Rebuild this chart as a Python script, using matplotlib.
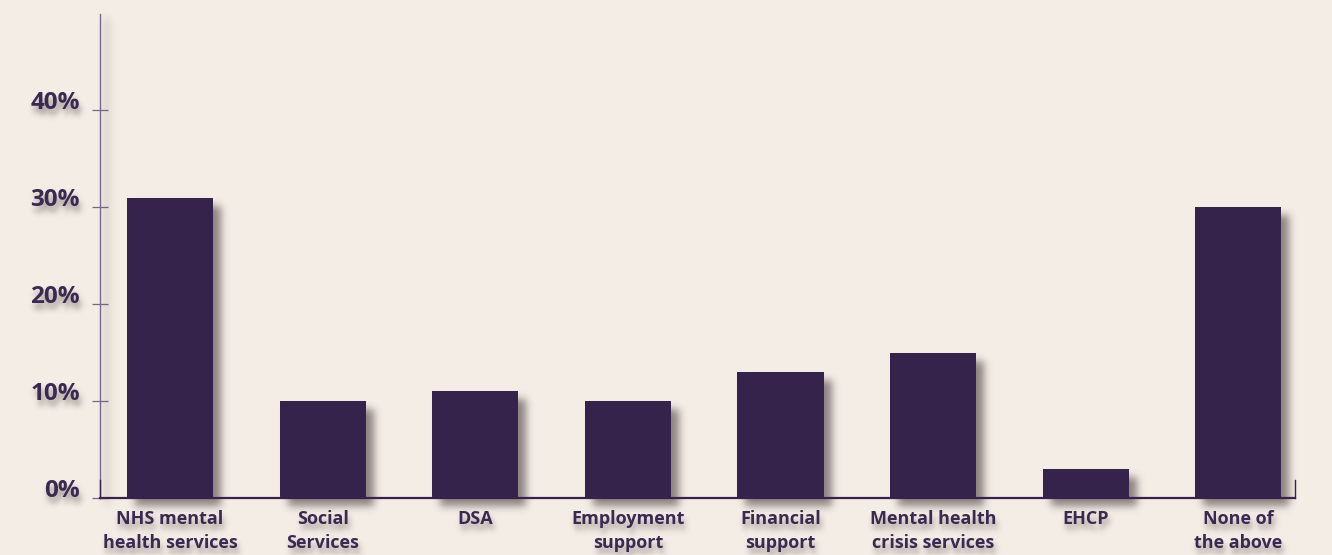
import numpy as np
import matplotlib
matplotlib.use("Agg")
import matplotlib.pyplot as plt
from matplotlib.transforms import offset_copy

categories = ["NHS mental\nhealth services", "Social\nServices", "DSA", "Employment\nsupport",
              "Financial\nsupport", "Mental health\ncrisis services", "EHCP", "None of\nthe above"]
values = [31, 10, 11, 10, 13, 15, 3, 30]
yticks = [0, 10, 20, 30, 40]
ytick_labels = [f"{t}%" for t in yticks]

BG = "#f4ede6"
BAR = "#36234b"
INK = "#3a2a52"
AXIS = "#76688f"
FONT = ["Open Sans", "DejaVu Sans"]


def blur(a, sigma):
    # separable gaussian, rows then columns
    r = max(int(3 * sigma), 1)
    k = np.exp(-0.5 * (np.arange(-r, r + 1) / sigma) ** 2)
    k /= k.sum()
    h, w = a.shape
    p = np.pad(a, r)
    tmp = sum(k[i] * p[:, i:i + w] for i in range(2 * r + 1))
    return sum(k[i] * tmp[i:i + h, :] for i in range(2 * r + 1))


class Shadow:
    """agg filter: draws the artist over a soft offset shadow"""

    def __init__(self, dx, dy, sigma, alpha, color=(0.28, 0.24, 0.24)):
        self.dx, self.dy, self.sigma, self.alpha = dx, dy, sigma, alpha
        self.color = np.array(color)

    def __call__(self, im, dpi):
        pad = int(abs(self.dx) + abs(self.dy) + 3 * self.sigma) + 2
        src = np.pad(im, [(pad, pad), (pad, pad), (0, 0)])
        a = src[..., 3]
        sh = np.roll(np.roll(a, self.dx, axis=1), self.dy, axis=0)
        sa = np.clip(blur(sh, self.sigma) * self.alpha, 0, 1)
        out = np.empty_like(src)
        oa = a + sa * (1 - a)
        safe = np.where(oa > 1e-6, oa, 1)
        for c in range(3):
            out[..., c] = (src[..., c] * a + self.color[c] * sa * (1 - a)) / safe
        out[..., 3] = oa
        return out, -pad, -pad


fig = plt.figure(figsize=(13.32, 5.55), dpi=100, facecolor=BG)
W, H = 1332, 555
x_left, x_right = 100, 1295
y_zero, y_top = 498, 13.5
ax = fig.add_axes([x_left / W, (H - y_zero) / H, (x_right - x_left) / W, (y_zero - y_top) / H])
ax.set_facecolor(BG)

x = np.arange(len(categories))
bars = ax.bar(x, values, width=0.565, color=BAR, zorder=3)
for b in bars:
    b.set_agg_filter(Shadow(8, 8, 4, 0.6))

ax.set_xlim(-0.459, 7.372)
ax.set_ylim(0, 50)
ax.set_yticks(yticks)
ax.set_yticklabels([])
ax.set_xticks([])
ax.tick_params(axis="y", direction="inout", length=11.5, width=0.9, color=AXIS)

for s in ("top", "right"):
    ax.spines[s].set_visible(False)
ax.spines["left"].set_color(AXIS)
ax.spines["left"].set_linewidth(1.0)
ax.spines["left"].set_agg_filter(Shadow(6, 4, 4, 0.35))
ax.spines["bottom"].set_color(BAR)
ax.spines["bottom"].set_linewidth(1.6)
ax.spines["bottom"].set_zorder(4)

# small end marks on the baseline
end_h = 18 / (y_zero - y_top)
for xe in ax.get_xlim():
    ax.axvline(xe, ymin=0, ymax=end_h, color=BAR, lw=1.0, zorder=4, clip_on=False)

# y tick labels
ylab_tr = offset_copy(ax.get_yaxis_transform(), fig=fig, x=-14.4, y=5, units="points")
for t, lab in zip(yticks, ytick_labels):
    txt = ax.text(0, t, lab, transform=ylab_tr, ha="right", va="center",
                  fontsize=17.5, fontweight="bold", color=INK, family=FONT, clip_on=False)
    txt.set_agg_filter(Shadow(2, 6, 3, 0.5))

# category labels under the baseline
xlab_tr = offset_copy(ax.get_xaxis_transform(), fig=fig, x=0, y=-9, units="points")
for xi, lab in zip(x, categories):
    txt = ax.text(xi, 0, lab, transform=xlab_tr, ha="center", va="top",
                  fontsize=13, fontweight="bold", color=INK, family=FONT,
                  linespacing=1.4, clip_on=False)
    txt.set_agg_filter(Shadow(2, 6, 3, 0.45))

fig.savefig("out.png", dpi=100, facecolor=BG)
